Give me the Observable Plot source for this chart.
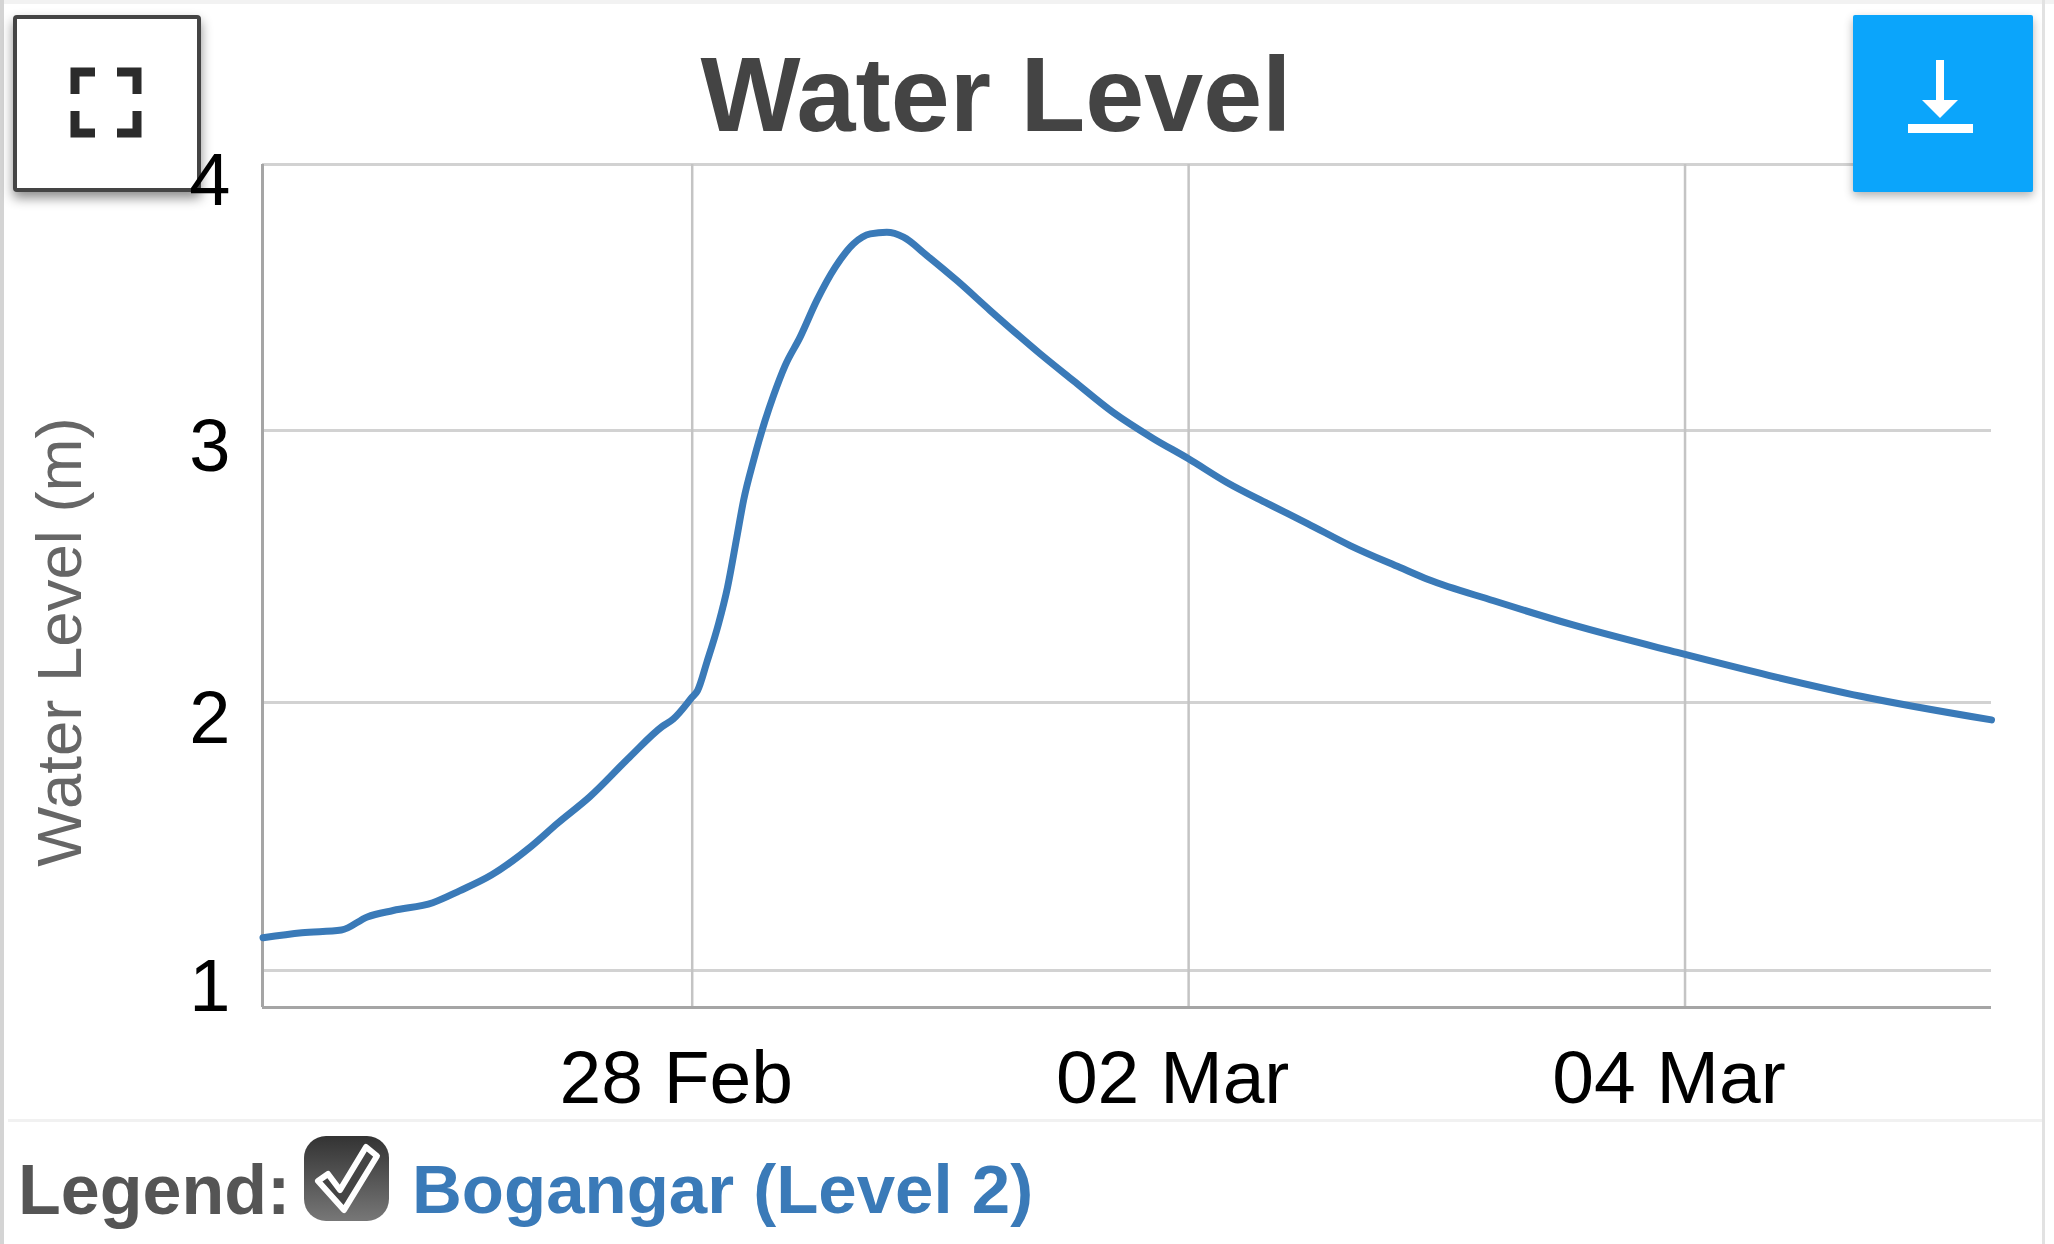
<!DOCTYPE html>
<html>
<head>
<meta charset="utf-8">
<script src="https://cdn.jsdelivr.net/npm/d3@7"></script>
<script src="https://cdn.jsdelivr.net/npm/@observablehq/plot@0.6"></script>
<style>
html,body{margin:0;padding:0;background:#fff;}
#page{position:relative;width:2054px;height:1244px;overflow:hidden;font-family:"Liberation Sans",Arial,sans-serif;}
#frameL{position:absolute;left:0;top:0;width:4px;height:1244px;background:#d4d4d4;}
#frameR{position:absolute;left:2042px;top:0;width:3px;height:1244px;background:#e2e2e2;}
#frameT{position:absolute;left:0;top:0;width:2054px;height:4px;background:#f2f2f2;}
#sep{position:absolute;left:8px;top:1119px;width:2034px;height:3px;background:#f1f1f1;}
#chart{position:absolute;left:0;top:0;}
#title{position:absolute;left:0;width:1992px;top:32px;text-align:center;font-weight:bold;font-size:106px;line-height:125px;color:#444;}
#ylabel{position:absolute;left:59px;top:642px;font-size:63.5px;line-height:62px;color:#666;white-space:nowrap;transform:translate(-50%,-50%) rotate(-90deg);}
#full{position:absolute;left:13px;top:15px;width:188px;height:177px;box-sizing:border-box;border:4px solid #444;border-radius:4px;background:#fff;box-shadow:0 6px 12px rgba(0,0,0,.45);}
#down{position:absolute;left:1853px;top:15px;width:180px;height:177px;background:#0ba5fb;border-radius:2px;box-shadow:0 4px 10px rgba(0,0,0,.3);}
#legend{position:absolute;left:18px;top:1150px;font-weight:bold;font-size:70px;line-height:80px;color:#555;white-space:nowrap;}
#series{position:absolute;left:412px;top:1150px;font-weight:bold;font-size:69px;line-height:80px;color:#3a7ab8;white-space:nowrap;}
#check{position:absolute;left:304px;top:1136px;width:85px;height:85px;border-radius:22px;background:linear-gradient(#333,#777);}
svg text{font-family:"Liberation Sans",Arial,sans-serif;}
</style>
</head>
<body>
<div id="page">
  <div id="frameT"></div><div id="frameL"></div><div id="frameR"></div><div id="sep"></div>
  <div id="full"><svg width="180" height="169" style="display:block"><path d="M58 75V53H78M100 53H120V75M58 92V114H78M100 114H120V92" fill="none" stroke="#2b2b2b" stroke-width="9"/></svg></div>
  <div id="chart"></div>
  <div id="title">Water Level</div>
  <div id="ylabel">Water Level (m)</div>
  <div id="down"><svg width="180" height="177" style="display:block"><path d="M83 45h8v40h14l-18 18-18-18h14z M55 109h65v9H55z" fill="#fff"/></svg></div>
  <div id="legend">Legend:</div>
  <div id="check"><svg width="85" height="85" style="display:block"><path d="M14 45L24 38L36 54L62 11L73 20L40 74Z" fill="#444" stroke="#fff" stroke-width="6" stroke-linejoin="round"/></svg></div>
  <div id="series">Bogangar (Level 2)</div>
</div>
<script>
const times = [
  "2021-02-26T06:30","2021-02-26T10:15","2021-02-26T14:05","2021-02-26T16:35","2021-02-26T19:05","2021-02-26T22:55",
  "2021-02-27T01:30","2021-02-27T04:35","2021-02-27T08:25","2021-02-27T11:00","2021-02-27T14:05","2021-02-27T17:55","2021-02-27T21:05","2021-02-27T22:11",
  "2021-02-28T00:00","2021-02-28T00:31","2021-02-28T01:25","2021-02-28T02:33","2021-02-28T03:25","2021-02-28T04:19","2021-02-28T04:58","2021-02-28T05:56","2021-02-28T07:03","2021-02-28T07:52","2021-02-28T08:59","2021-02-28T10:26","2021-02-28T12:03","2021-02-28T13:50","2021-02-28T15:36","2021-02-28T17:13","2021-02-28T18:49","2021-02-28T20:26","2021-02-28T22:41",
  "2021-03-01T01:35","2021-03-01T04:49","2021-03-01T09:39","2021-03-01T12:50","2021-03-01T16:42","2021-03-01T20:34","2021-03-01T23:57",
  "2021-03-02T03:42","2021-03-02T07:36","2021-03-02T11:30","2021-03-02T15:37","2021-03-02T20:27","2021-03-02T23:10",
  "2021-03-03T05:30","2021-03-03T13:05","2021-03-03T23:15",
  "2021-03-04T08:05","2021-03-04T17:00","2021-03-05T05:38"
];
const levels = [
  1.122,1.141,1.151,1.20,1.224,1.253,
  1.297,1.356,1.463,1.55,1.648,1.795,1.91,1.939,
  2.02,2.044,2.148,2.29,2.424,2.608,2.743,2.89,3.038,3.132,3.244,3.351,3.489,3.614,3.702,3.739,3.745,3.727,3.658,
  3.564,3.451,3.288,3.188,3.068,2.971,2.897,
  2.809,2.732,2.658,2.577,2.496,2.452,
  2.374,2.286,2.184,
  2.10,2.023,1.935
];
const xTickTimes = ["2021-02-28T00:00","2021-03-02T00:00","2021-03-04T00:00"];
const xTickLabels = ["28 Feb","02 Mar","04 Mar"];
const yTicks = [1,2,3,4];
const xDomain = ["2021-02-26T06:27","2021-03-05T05:38"];
const yDomain = [0.862,1,2,3,4];

const parse = s => new Date(s + "Z");
const rows = times.map((t,i)=>({t:parse(t),v:levels[i]}));
const xTicks = xTickTimes.map(parse);

const plot = Plot.plot({
  width:2054, height:1120,
  marginLeft:262, marginRight:63, marginTop:164, marginBottom:113,
  style:{background:"transparent",overflow:"visible"},
  x:{type:"utc",domain:xDomain.map(parse)},
  y:{type:"linear",domain:yDomain,range:[1007,970,702,430,164]},
  marks:[
    Plot.gridY(yTicks,{stroke:"#d2d2d2",strokeOpacity:1,strokeWidth:3}),
    Plot.gridX(xTicks,{stroke:"#c4c4c4",strokeOpacity:1,strokeWidth:2.5}),
    Plot.ruleX(xDomain.slice(0,1).map(parse),{stroke:"#a5a5a5",strokeWidth:3}),
    Plot.ruleY(yDomain.slice(0,1),{stroke:"#a5a5a5",strokeWidth:3}),
    Plot.axisY({ticks:yTicks,tickSize:0,tickPadding:32,dy:17,fontSize:74,label:null,color:"#000",tickFormat:d=>String(d)}),
    Plot.axisX({ticks:xTicks,tickSize:0,tickPadding:42,dx:-16,fontSize:75,label:null,color:"#000",
      tickFormat:d=>xTickLabels[xTicks.findIndex(t=>+t===+d)]}),
    Plot.line(rows,{x:"t",y:"v",stroke:"#3a7ab8",strokeWidth:7,curve:"monotone-x"})
  ]
});
document.getElementById("chart").appendChild(plot);
</script>
</body>
</html>
